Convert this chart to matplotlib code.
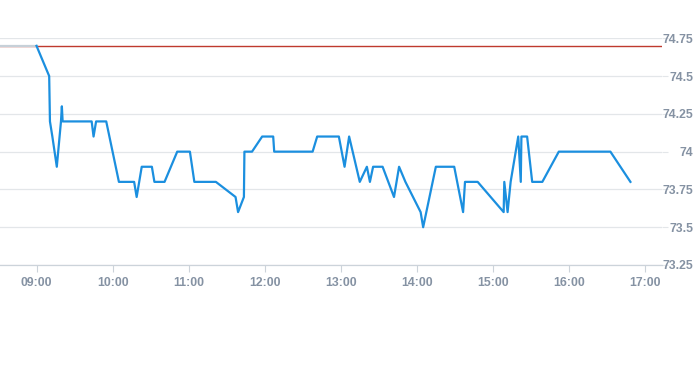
#%% LIBRARIES
import pandas as pd
import matplotlib
matplotlib.use('Agg')
import matplotlib.pyplot as plt
import matplotlib.dates as mdates

#%% DATA

DAY = '2024-01-01 '

# grey lead-in (previous close level)
prev_times = ['08:31', '09:00']
prev_values = [74.7, 74.7]

# red reference line level
ref_level = 74.7

# intraday price line
times = ['09:00', '09:10', '09:10.6', '09:12.5', '09:16', '09:19.3', '09:20', '09:20.6',
         '09:43.5', '09:45', '09:47', '09:55', '10:05', '10:17', '10:19', '10:23',
         '10:31', '10:33', '10:41', '10:51', '11:01', '11:04.5', '11:21.5', '11:37',
         '11:39', '11:43.6', '11:44', '11:50', '11:58', '12:06.7', '12:07.5', '12:37.8',
         '12:41.4', '12:58.5', '13:03', '13:06.6', '13:15', '13:20.6', '13:23', '13:25.5',
         '13:33', '13:42', '13:46', '13:51', '14:03', '14:05', '14:15', '14:29.5',
         '14:36.5', '14:38', '14:48', '15:08.5', '15:09', '15:11.6', '15:14', '15:20',
         '15:22', '15:22.5', '15:27', '15:31', '15:39', '15:52', '16:32.7', '16:48.5']
values = [74.7, 74.5, 74.2, 74.1, 73.9, 74.2, 74.3, 74.2,
          74.2, 74.1, 74.2, 74.2, 73.8, 73.8, 73.7, 73.9,
          73.9, 73.8, 73.8, 74.0, 74.0, 73.8, 73.8, 73.7,
          73.6, 73.7, 74.0, 74.0, 74.1, 74.1, 74.0, 74.0,
          74.1, 74.1, 73.9, 74.1, 73.8, 73.9, 73.8, 73.9,
          73.9, 73.7, 73.9, 73.8, 73.6, 73.5, 73.9, 73.9,
          73.6, 73.8, 73.8, 73.6, 73.8, 73.6, 73.8, 74.1,
          73.8, 74.1, 74.1, 73.8, 73.8, 74.0, 74.0, 73.8]

y_ticks = [73.25, 73.5, 73.75, 74, 74.25, 74.5, 74.75]
y_tick_labels = ['73.25', '73.5', '73.75', '74', '74.25', '74.5', '74.75']
x_ticks = ['09:00', '10:00', '11:00', '12:00', '13:00', '14:00', '15:00', '16:00', '17:00']


def to_time(t):
    """ 'HH:MM.m' -> Timestamp """
    h, m = t.split(':')
    return pd.Timestamp(DAY + h + ':00') + pd.Timedelta(minutes=float(m))


#%% PLOT

TEXT = '#8592a3'
GRID = '#e3e6e9'

fig = plt.figure(figsize=(6.93, 3.65), dpi=100)
ax = fig.add_axes([0.0, 1 - 265 / 365, 662 / 693, (265 - 38.3) / 365])

ax.plot([to_time(t) for t in prev_times], prev_values, color='#c6d0d8', lw=1.6, zorder=3)
ax.axhline(ref_level, color='#bf3a2e', lw=1.0, zorder=2)
ax.plot([to_time(t) for t in times], values, color='#1b8fdf', lw=1.6, zorder=4)

ax.set_xlim(to_time('08:31.2'), to_time('17:13.4'))
ax.set_ylim(73.25, 74.75)

ax.set_yticks(y_ticks)
ax.set_yticklabels(y_tick_labels)
ax.yaxis.tick_right()
ax.tick_params(axis='y', length=4, width=0.8, color=GRID, pad=18.5, labelcolor=TEXT, labelsize=8.8)
for lab in ax.get_yticklabels():
    lab.set_horizontalalignment('right')
    lab.set_fontweight('semibold')

ax.set_xticks([to_time(t) for t in x_ticks])
ax.xaxis.set_major_formatter(mdates.DateFormatter('%H:%M'))
ax.tick_params(axis='x', length=5, width=0.8, color='#ccd3da', pad=4, labelcolor=TEXT, labelsize=8.8)
for lab in ax.get_xticklabels():
    lab.set_fontweight('semibold')

for lab in ax.get_xticklabels() + ax.get_yticklabels():
    lab.set_family('Liberation Sans')

ax.grid(axis='y', color=GRID, lw=0.9)
ax.set_axisbelow(True)
for side in ['top', 'left', 'right']:
    ax.spines[side].set_visible(False)
ax.spines['bottom'].set_color('#ccd3da')
ax.spines['bottom'].set_linewidth(0.9)

fig.savefig('out.png', dpi=100)
